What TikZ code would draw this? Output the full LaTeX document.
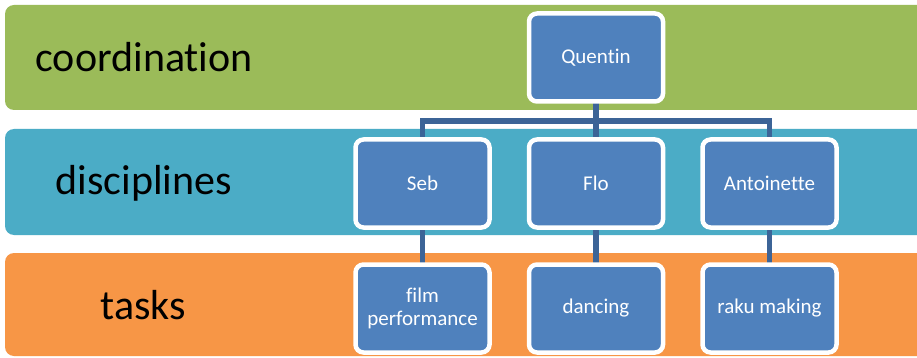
\documentclass[tikz,border=0pt]{standalone}
\usepackage{fontspec}
\setmainfont[Ligatures=NoCommon]{Carlito}
\usetikzlibrary{backgrounds}
\begin{document}
\begin{tikzpicture}[x=1pt,y=-1pt,
  band/.style={rounded corners=9pt},
  lbl/.style={anchor=west,font=\fontsize{42}{46}\selectfont,text=black},
  person/.style={draw=white,line width=4.5pt,fill=boxblue,rounded corners=8pt,
    minimum width=134pt,minimum height=88pt,text=white,align=center,
    font=\fontsize{21}{24}\selectfont,inner sep=2pt},
  conn/.style={draw=linkblue,line width=5.5pt,line cap=rect}]
\definecolor{bandgreen}{HTML}{9BBB59}
\definecolor{bandteal}{HTML}{4BACC6}
\definecolor{bandorange}{HTML}{F79646}
\definecolor{boxblue}{HTML}{4F81BD}
\definecolor{linkblue}{HTML}{3C6497}
\clip (0,0) rectangle (917,358);
% level labels
\node[lbl] (lcoord) at (32,57) {coordination};
\node[lbl] (ldisc) at (52,183) {disciplines};
\node[lbl] (ltask) at (97,305) {tasks};
% hierarchy
\coordinate (hub) at (596,121);
\node[person] (q) at (596,57.5) {Quentin};
\node[person] (seb) at (422.5,183.5) {Seb};
\node[person] (flo) at (596,183.5) {Flo};
\node[person] (ant) at (769.5,183.5) {Antoinette};
\node[person] (film) at (422.5,308.5) {film\\[-1pt]performance};
\node[person] (dance) at (596,308.5) {dancing};
\node[person] (raku) at (769.5,308.5) {raku making};
\begin{scope}[on background layer]
  \fill[white] (0,0) rectangle (917,358);
  % level bands
  \fill[bandgreen,band] (5,5) rectangle (940,110);
  \fill[bandteal,band] (5,129) rectangle (940,235);
  \fill[bandorange,band] (5,253) rectangle (940,356);
  % links
  \draw[conn] (q) -- (hub);
  \draw[conn] (seb) |- (hub);
  \draw[conn] (ant) |- (hub);
  \draw[conn] (flo) -- (hub);
  \draw[conn] (seb) -- (film);
  \draw[conn] (flo) -- (dance);
  \draw[conn] (ant) -- (raku);
\end{scope}
\end{tikzpicture}
\end{document}
